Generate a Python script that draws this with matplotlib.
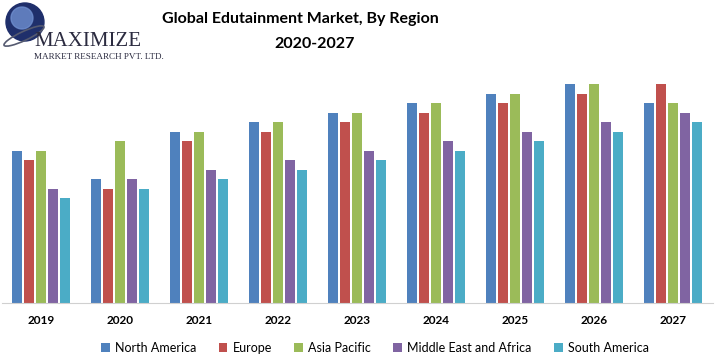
import numpy as np
import matplotlib.pyplot as plt
from matplotlib.patches import Circle, Ellipse

# data (relative units, no y axis shown)
years = ['2019', '2020', '2021', '2022', '2023', '2024', '2025', '2026', '2027']
regions = ['North America', 'Europe', 'Asia Pacific', 'Middle East and Africa', 'South America']
north_america = [16, 13, 18, 19, 20, 21, 22, 23, 21]
europe = [15, 12, 17, 18, 19, 20, 21, 22, 23]
asia_pacific = [16, 17, 18, 19, 20, 21, 22, 23, 21]
mea = [12, 13, 14, 15, 16, 17, 18, 19, 20]
south_america = [11, 12, 13, 14, 15, 16, 17, 18, 19]
colors = ['#4F81BD', '#C0504D', '#9BBB59', '#8064A2', '#4BACC6']

series = [north_america, europe, asia_pacific, mea, south_america]

plt.rcParams['font.family'] = ['Lato', 'DejaVu Sans']

fig = plt.figure(figsize=(7.21, 3.59), dpi=100)
ax = fig.add_axes([1.5 / 721, 56 / 359, 711 / 721, 233 / 359])

x = np.arange(len(years))
w = 0.127
step = 0.152
for i, vals in enumerate(series):
    ax.bar(x + (i - 2) * step, vals, width=w, color=colors[i], label=regions[i])

ax.set_xlim(-0.5, len(years) - 0.5)
ax.set_ylim(0, 24.5)
ax.set_yticks([])
ax.set_xticks(x)
ax.set_xticklabels(years, fontsize=8.5, fontweight='bold')
ax.tick_params(axis='x', length=0, pad=9)
for s in ['top', 'right', 'left']:
    ax.spines[s].set_visible(False)
ax.spines['bottom'].set_color('#d0d0d0')

# title
fig.text(0.416, 0.948, 'Global Edutainment Market, By Region', ha='center', va='center',
         fontsize=11.5, fontweight='bold')
fig.text(0.436, 0.878, '2020-2027', ha='center', va='center', fontsize=11.5, fontweight='bold')

# legend
handles, labels = ax.get_legend_handles_labels()
fig.legend(handles, labels, loc='center', bbox_to_anchor=(0.52, 0.03), ncol=5,
           frameon=False, fontsize=9, handlelength=0.7, handleheight=0.7,
           handletextpad=0.4, columnspacing=1.8)

# logo approximation
lax = fig.add_axes([0, 0.78, 0.23, 0.22])
lax.set_xlim(0, 166)
lax.set_ylim(0, 79)
lax.axis('off')
lax.add_patch(Circle((25, 57), 19, color='#1f2f6b'))
lax.add_patch(Circle((22, 61), 11, color='#6f8fd0', alpha=0.8))
lax.add_patch(Ellipse((24, 43), 44, 9, angle=25, fill=False, ec='#555a70', lw=1.2))
lax.text(34, 37, 'MAXIMIZE', fontsize=15, family='Liberation Serif', color='#2b2b40',
         va='center', ha='left')
lax.text(34, 22, 'MARKET RESEARCH PVT. LTD.', fontsize=6.6, family='Liberation Serif',
         color='#2b2b40', va='center', ha='left')

plt.savefig('out.png', dpi=100)
